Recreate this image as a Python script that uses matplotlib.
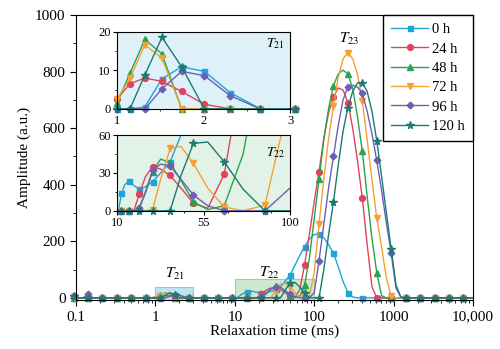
import numpy as np
import matplotlib.pyplot as plt
from matplotlib.lines import Line2D
from matplotlib.patches import Rectangle
from matplotlib.ticker import MultipleLocator, LogLocator, NullFormatter

plt.rcParams['font.family'] = ['Liberation Serif', 'DejaVu Serif']
plt.rcParams['mathtext.fontset'] = 'stix'

# T2 inversion grid of the instrument: 100 points from 0.01 to 10000 ms
t2 = np.logspace(-2, 4, 100)
k0 = 16  # first grid point shown (~0.1 ms)

labels = ['0 h', '24 h', '48 h', '72 h', '96 h', '120 h']
colors = ['#1ea3dc', '#e0435c', '#2ba24c', '#f5a032', '#6b60b4', '#1b7a72']
markers = ['s', 'o', '^', 'v', 'D', '*']
msizes = [3.6, 4.2, 4.2, 4.2, 3.4, 5.6]

# amplitudes on the grid from k=16 on, zero after the last value
#            k=16 .. 30
amp_0h = [0, 0, 0, 0, 0, 0, 0, 0, 0, 0, 0, 0, 0, 0, 0,
          0, 0, 0, 0, 0.5, 7.8, 10.9, 9.7, 4.2, 0, 0,           # 31-41
          0, 0, 0, 0, 0, 0, 0, 0,                               # 42-49
          0, 13.8, 21, 23.5, 20, 17.2, 19, 23, 30, 38.8, 60, 81, 115, 150, 181, 208, 224,
          225, 212, 188, 158, 110, 58, 19, 3, 0]
amp_24h = [5, 0, 0, 0, 0, 0, 0, 0, 0, 0, 0, 0, 0, 0, 0,
           0, 0, 2.5, 6.5, 8.0, 7.1, 4.5, 1.2, 0, 0, 0,
           0, 0, 0, 0, 0, 0, 0, 0,
           0, 0, 0, 0, 0, 13, 27, 35, 33, 28, 18, 6, 2, 29, 116, 225, 340,
           445, 565, 655, 711, 742, 735, 690, 600, 485, 352, 190, 40, 0]
amp_48h = [0, 0, 0, 0, 0, 0, 0, 0, 0, 0, 0, 0, 0, 0, 0,
           0, 0, 1.5, 9.2, 18.0, 14.2, 0, 0, 0, 0, 0,
           0, 0, 0, 0, 0, 0, 0, 0,
           0, 0, 0, 0, 0, 2, 14, 31, 41, 38, 24, 7, 1, 4, 45, 140, 280,
           419, 560, 670, 750, 792, 805, 792, 740, 640, 518, 360, 210, 89, 8, 0]
amp_72h = [3, 0, 0, 0, 0, 0, 0, 0, 0, 0, 0, 0, 0, 0, 0,
           0, 0, 2.5, 7.9, 16.6, 13.1, 0, 0, 0, 0, 0,
           0, 0, 0, 0, 0, 0, 0, 0,
           0, 0, 0, 0, 0, 0, 0, 1, 25, 49.4, 51, 37.5, 18, 3, 0, 4.5, 90,
           260, 420, 565, 679, 780, 845, 867, 845, 790, 697, 560, 420, 282, 180, 70, 5, 0]
amp_96h = [6, 0, 0, 14, 0, 0, 0, 0, 0, 0, 0, 0, 0, 0, 0,
           0, 0, 0, 0, 0, 5.2, 9.7, 8.6, 3.4, 0, 0,
           0, 0, 0, 0, 0, 0, 0, 0,
           0, 0, 0, 0, 0, 2, 15, 32, 37, 35.4, 25, 12.4, 4, 0, 0, 0, 18,
           131, 260, 390, 500, 610, 700, 746, 752, 745, 723, 660, 580, 486, 380, 265, 158, 35, 3, 0]
amp_120h = [8, 0, 0, 0, 0, 0, 0, 0, 0, 0, 0, 0, 0, 0, 0,
            0, 0, 0, 0, 8.8, 18.5, 10.9, 0, 0, 0, 0,
            0, 0, 0, 0, 0, 0, 0, 0,
            0, 0, 0, 0, 0, 0, 0, 0, 0, 0, 28, 53.4, 54.5, 38.8, 17, 0, 0,
            0, 100, 225, 339, 470, 590, 673, 730, 760, 761, 730, 660, 556, 430, 300, 172, 45, 3, 0]

series = [amp_0h, amp_24h, amp_48h, amp_72h, amp_96h, amp_120h]


def on_grid(vals):
    a = np.zeros(len(t2))
    a[k0:k0 + len(vals)] = vals
    return a


amps = [on_grid(v) for v in series]

fig = plt.figure(figsize=(5, 3.49), dpi=100)
ax = fig.add_axes([0.152, 0.14, 0.794, 0.817])

# shaded windows for T21 and T22
ax.add_patch(Rectangle((1, -8), 2, 46, fc='#bfe3ef', ec='#8ccbe0', lw=0.8, zorder=0.5))
ax.add_patch(Rectangle((10, -8), 90, 75, fc='#cde8cf', ec='#9ccf9f', lw=0.8, zorder=0.5))

for a, c, m, s in zip(amps, colors, markers, msizes):
    ax.plot(t2[k0:], a[k0:], color=c, lw=1, marker=m, ms=s, markevery=3,
            clip_on=False)

ax.set_xscale('log')
ax.set_xlim(0.1, 10000)
ax.set_ylim(-8, 1000)
ax.set_xticks([0.1, 1, 10, 100, 1000, 10000])
ax.set_xticklabels(['0.1', '1', '10', '100', '1000', '10,000'])
ax.xaxis.set_minor_locator(LogLocator(base=10, subs=np.arange(2, 10)))
ax.xaxis.set_minor_formatter(NullFormatter())
ax.set_yticks([0, 200, 400, 600, 800, 1000])
ax.yaxis.set_minor_locator(MultipleLocator(100))
ax.tick_params(which='both', direction='out', labelsize=11)
ax.tick_params(which='major', length=4)
ax.tick_params(which='minor', length=2)
ax.set_xlabel('Relaxation time (ms)', fontsize=11, labelpad=1)
ax.set_ylabel('Amplitude (a.u.)', fontsize=11, labelpad=3)

ax.text(1.75, 70, '$T_{21}$', ha='center', fontsize=11)
ax.text(27, 75, '$T_{22}$', ha='center', fontsize=11)
ax.text(277, 900, '$T_{23}$', ha='center', fontsize=11)

handles = [Line2D([], [], color=c, lw=1, marker=m, ms=s)
           for c, m, s in zip(colors, markers, msizes)]
ax.legend(handles, labels, loc='upper right', borderaxespad=0, fancybox=False,
          edgecolor='black', framealpha=1, fontsize=10.5, handlelength=2.5,
          handletextpad=0.3, labelspacing=0.42, borderpad=0.55)

# inset: T21
ax1 = fig.add_axes([0.234, 0.688, 0.346, 0.2215], facecolor='#dff1f8')
for a, c, m, s in zip(amps, colors, markers, msizes):
    ax1.plot(t2[33:42], a[33:42], color=c, lw=1, marker=m, ms=s,
             clip_on=False)
ax1.set_xlim(1, 3)
ax1.set_ylim(0, 20)
ax1.set_xticks([1, 2, 3])
ax1.set_yticks([0, 10, 20])
ax1.xaxis.set_minor_locator(MultipleLocator(0.5))
ax1.yaxis.set_minor_locator(MultipleLocator(5))
ax1.text(0.97, 0.8, '$T_{21}$', transform=ax1.transAxes, ha='right', fontsize=10)

# inset: T22
ax2 = fig.add_axes([0.234, 0.396, 0.346, 0.217], facecolor='#e3f2e6')
for a, c, m, s in zip(amps, colors, markers, msizes):
    x, y = t2[50:67], a[50:67]
    ax2.plot(x, y, color=c, lw=1)
    keep = (np.arange(len(x)) % 2 == 1) & (y <= 60)
    ax2.plot(x[keep], y[keep], ls='none', color=c, marker=m, ms=s, clip_on=False)
ax2.set_xlim(10, 100)
ax2.set_ylim(0, 60)
ax2.set_xticks([10, 55, 100])
ax2.set_yticks([0, 30, 60])
ax2.xaxis.set_minor_locator(MultipleLocator(22.5))
ax2.yaxis.set_minor_locator(MultipleLocator(15))
ax2.text(0.97, 0.72, '$T_{22}$', transform=ax2.transAxes, ha='right', fontsize=10)

for a_ in (ax1, ax2):
    a_.tick_params(which='both', direction='out', labelsize=9, pad=1.5)
    a_.tick_params(which='major', length=3)
    a_.tick_params(which='minor', length=1.5)

fig.savefig('out.png', dpi=100)
